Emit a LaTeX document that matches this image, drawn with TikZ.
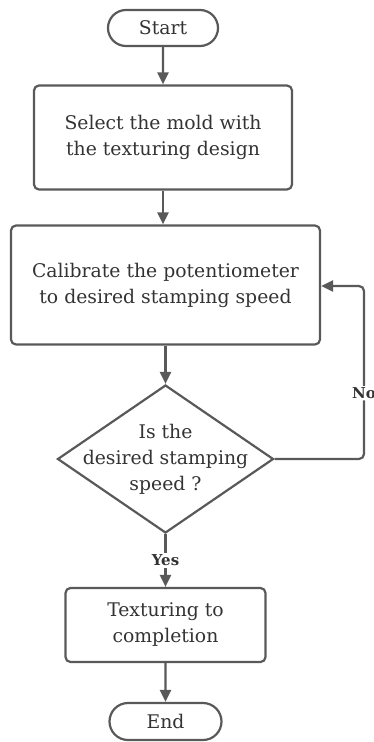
\documentclass[tikz,border=0pt]{standalone}
\usepackage{fontspec}
\setmainfont{DejaVu Serif}
\usetikzlibrary{shapes.geometric,shapes.misc,arrows.meta}
\definecolor{linec}{HTML}{595959}
\definecolor{textc}{HTML}{333333}
\tikzset{
  x=1pt,y=-1pt,
  every node/.style={text=textc,font=\fontsize{18.8}{26}\selectfont,align=center},
  procbox/.style={draw=linec,line width=2.2pt,rounded corners=5pt,inner sep=0pt},
  term/.style={draw=linec,line width=2.2pt,rounded rectangle,inner sep=0pt},
  decision/.style={draw=linec,line width=2.2pt,diamond,inner sep=0pt},
  conn/.style={draw=linec,line width=2.2pt,-{Triangle[length=12pt,width=11pt]}},
  lab/.style={font=\fontsize{15}{17}\selectfont\bfseries,fill=white,inner sep=1.5pt}
}
\begin{document}
\begin{tikzpicture}
\useasboundingbox (0,0) rectangle (373,742);
\node[term,minimum width=110pt,minimum height=36pt] (start) at (163,28) {Start};
\node[procbox,minimum width=258pt,minimum height=104pt] (b1) at (163,137.5) {Select the mold with\\the texturing design};
\node[procbox,minimum width=309pt,minimum height=119pt] (b2) at (165.5,285) {Calibrate the potentiometer\\to desired stamping speed};
\node[decision,minimum width=216pt,minimum height=148pt] (d) at (165.5,459) {};
\node at (165.5,459) {Is the\\desired stamping\\speed ?};
\node[procbox,minimum width=200pt,minimum height=74pt] (b3) at (165.5,625) {Texturing to\\completion};
\node[term,minimum width=112pt,minimum height=37pt] (end) at (165.5,721.5) {End};
\coordinate (c1) at (364,459);
\coordinate (c2) at (364,286);
\draw[conn] (start) -- (b1);
\draw[conn] (b1) -- (b1 |- b2.north);
\draw[conn] (b2) -- (d);
\draw[conn] (d) -- node[lab,pos=0.5]{Yes} (b3);
\draw[conn] (b3) -- (end);
\draw[conn,rounded corners=5pt] (d.east) -- (c1) -- node[lab,pos=0.38]{No} (c2) -- (b2.east |- c2);
\end{tikzpicture}
\end{document}
